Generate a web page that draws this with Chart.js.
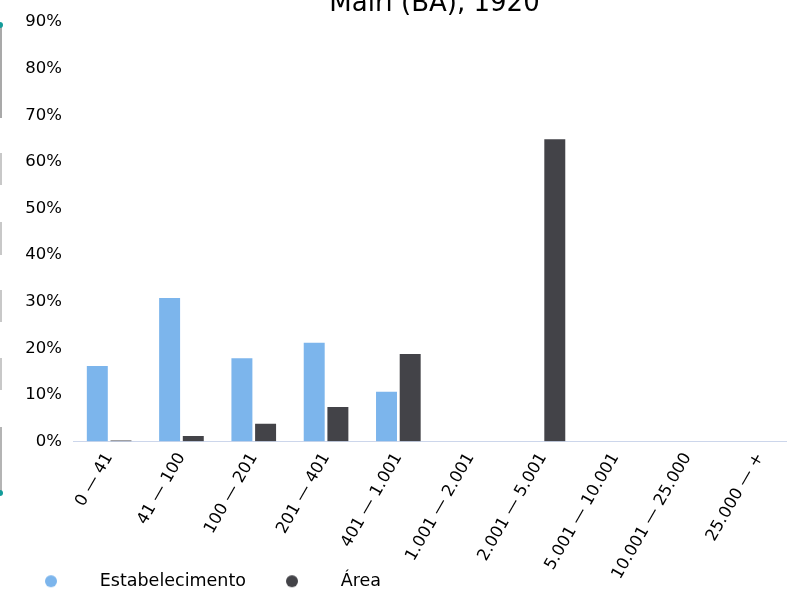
<!DOCTYPE html>
<html>
<head>
<meta charset="utf-8">
<script src="https://cdn.jsdelivr.net/npm/chart.js@4"></script>
<style>
  html, body { margin: 0; padding: 0; background: #fff; overflow: hidden; width: 787px; height: 589px; }
  #wrap { position: absolute; left: 0; top: -11px; }
  .edge { position: absolute; left: 0; width: 2px; background: #c8c8c8; }
  .dot { position: absolute; left: -3px; width: 6px; height: 6px; border-radius: 3px; background: #139c9a; }
</style>
</head>
<body>
<div class="edge" style="top:25px;height:93px;background:#a9a9a9"></div>
<div class="edge" style="top:153px;height:32px"></div>
<div class="edge" style="top:222px;height:33px"></div>
<div class="edge" style="top:290px;height:32px"></div>
<div class="edge" style="top:358px;height:32px"></div>
<div class="edge" style="top:427px;height:66px;background:#b4b4b4"></div>
<div class="dot" style="top:22px"></div>
<div class="dot" style="top:490px"></div>
<div id="wrap"><canvas id="chart" width="800" height="611"></canvas></div>
<script>
const categories = ["0 — 41", "41 — 100", "100 — 201", "201 — 401", "401 — 1.001",
  "1.001 — 2.001", "2.001 — 5.001", "5.001 — 10.001", "10.001 — 25.000", "25.000 — +"];
const estabelecimento = [16.4, 31.0, 18.1, 21.4, 10.9, 0, 0, 0, 0, 0];
const area = [0.4, 1.4, 4.0, 7.6, 19.0, 0, 65.1, 0, 0, 0];
const seriesNames = ["Estabelecimento", "Área"];
const seriesColors = ["#7cb5ec", "#434348"];

// legend marker: wide transparent image with the circle placed inside it
function legendDot(color) {
    const c = document.createElement("canvas");
    c.width = 76;
    c.height = 14;
    const g = c.getContext("2d");
    g.fillStyle = color;
    g.beginPath();
    g.arc(36, 7, 6, 0, Math.PI * 2);
    g.fill();
    return c;
}
const dots = seriesColors.map(legendDot);

Chart.defaults.font.family = "'DejaVu Sans', sans-serif";
Chart.defaults.color = "#000";

new Chart(document.getElementById("chart"), {
    type: "bar",
    data: {
        labels: categories,
        datasets: [
            { label: seriesNames[0], data: estabelecimento, backgroundColor: seriesColors[0] },
            { label: seriesNames[1], data: area, backgroundColor: seriesColors[1] }
        ].map(ds => ({
            ...ds,
            borderColor: "rgba(255,255,255,0.45)",
            borderWidth: 1,
            categoryPercentage: 0.655,
            barPercentage: 0.97
        }))
    },
    options: {
        responsive: false,
        animation: false,
        devicePixelRatio: 1,
        layout: { padding: { left: 5, right: 4, top: 0, bottom: 0 } },
        plugins: {
            title: {
                display: true,
                text: "Mairi (BA), 1920",
                fullSize: false,
                color: "#000",
                font: { size: 26, weight: "normal" },
                padding: { top: 0, bottom: 2 }
            },
            legend: {
                position: "bottom",
                align: "start",
                labels: {
                    usePointStyle: true,
                    pointStyleWidth: 76,
                    padding: 10,
                    color: "#000",
                    font: { size: 17.5 },
                    generateLabels: chart =>
                        Chart.defaults.plugins.legend.labels.generateLabels(chart)
                            .map((l, i) => ({ ...l, pointStyle: dots[i] }))
                }
            },
            tooltip: { enabled: false }
        },
        scales: {
            x: {
                grid: { display: false, drawTicks: true },
                border: { display: true, color: "#ccd6eb", width: 1 },
                afterFit: scale => {
                    scale.height = 121;
                    // long rotated labels may run past the shortened axis box
                    scale._computeLabelArea = () => null;
                },
                ticks: { minRotation: 60, maxRotation: 60, padding: 0, font: { size: 16.5 }, color: "#000" }
            },
            y: {
                min: 0,
                max: 90,
                grid: { display: false },
                border: { display: false },
                afterFit: scale => { scale.width = 68; },
                ticks: {
                    stepSize: 10,
                    font: { size: 16.5 },
                    color: "#000",
                    callback: v => v + "%"
                }
            }
        }
    }
});
</script>
</body>
</html>
